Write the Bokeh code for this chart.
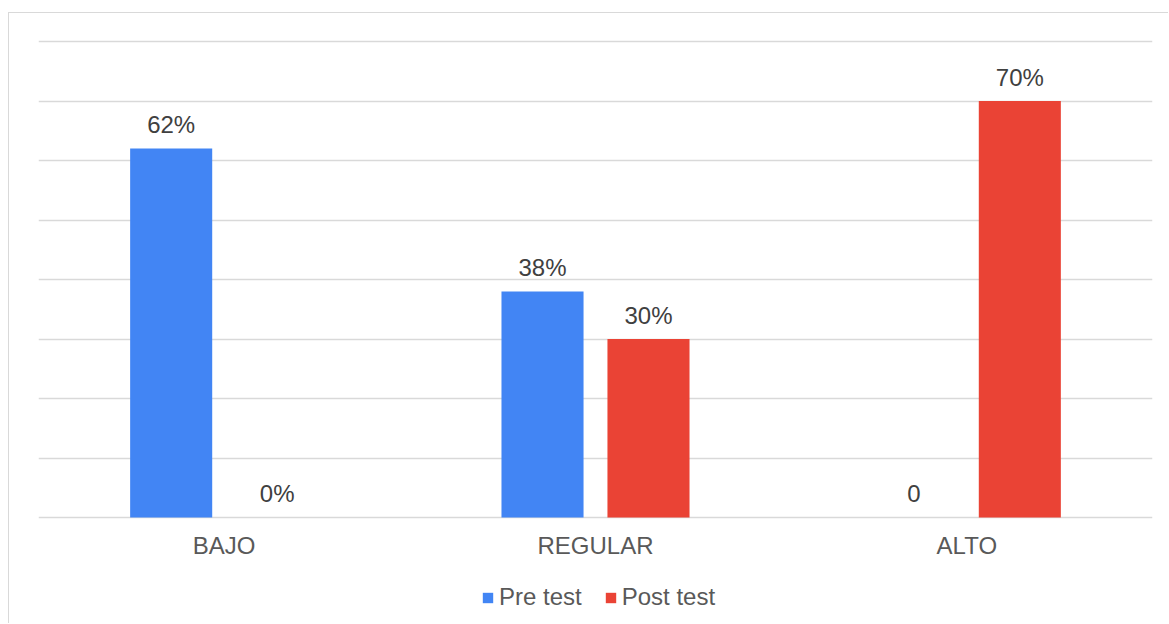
from bokeh.plotting import figure
from bokeh.models import ColumnDataSource, FactorRange, Legend, LegendItem, FixedTicker
from bokeh.transform import dodge
from bokeh.core.properties import value
from bokeh.embed import file_html
from bokeh.resources import INLINE

categories = ["BAJO", "REGULAR", "ALTO"]
pre_test = [0.62, 0.38, 0.0]
post_test = [0.0, 0.30, 0.70]
pre_labels = ["62%", "38%", "0"]
post_labels = ["0%", "30%", "70%"]
grid_ticks = [0.0, 0.1, 0.2, 0.3, 0.4, 0.5, 0.6, 0.7, 0.8]

BLUE = "#4285F4"
RED = "#EA4335"
FONT = "Liberation Sans"
FS = "24px"

src = ColumnDataSource(dict(cat=categories, pre=pre_test, post=post_test,
                            pre_lab=pre_labels, post_lab=post_labels,
                            base=[0.0] * len(categories)))

p = figure(x_range=FactorRange(*categories), y_range=(-0.17983, 0.84706),
           width=1160, height=611, output_backend="svg", toolbar_location=None,
           min_border_left=29, min_border_right=17, min_border_top=0, min_border_bottom=0,
           styles={"margin-left": "8px", "margin-top": "12px",
                   "border-top": "1px solid #d9d9d9",
                   "border-left": "1px solid #d9d9d9"})
p.outline_line_color = None
p.xaxis.visible = False
p.yaxis.visible = False

off = 0.1427
w = 0.221
r1 = p.vbar(x=dodge("cat", -off, range=p.x_range), top="pre", width=w, source=src,
            fill_color=BLUE, line_color=None)
r2 = p.vbar(x=dodge("cat", off, range=p.x_range), top="post", width=w, source=src,
            fill_color=RED, line_color=None)

p.text(x=dodge("cat", -off, range=p.x_range), y="pre", text="pre_lab", source=src,
       text_align="center", text_baseline="alphabetic", y_offset=-24,
       text_font=value(FONT), text_font_size=FS, text_color="#404040")
p.text(x=dodge("cat", off, range=p.x_range), y="post", text="post_lab", source=src,
       text_align="center", text_baseline="alphabetic", y_offset=-24,
       text_font=value(FONT), text_font_size=FS, text_color="#404040")

# category labels under the baseline
p.text(x="cat", y="base", text="cat", source=src,
       text_align="center", text_baseline="alphabetic", y_offset=28,
       text_font=value(FONT), text_font_size=FS, text_color="#595959")

p.ygrid.ticker = FixedTicker(ticks=grid_ticks)
p.ygrid.grid_line_color = "#d9d9d9"
p.ygrid.grid_line_width = 1.5
p.xgrid.grid_line_color = None

legend = Legend(items=[LegendItem(label="Pre test", renderers=[r1]),
                       LegendItem(label="Post test", renderers=[r2])],
                orientation="horizontal", location=(443, 13),
                glyph_width=13, glyph_height=13, label_standoff=5, spacing=22,
                label_text_font=FONT, label_text_font_size=FS,
                label_text_color="#595959", border_line_color=None,
                background_fill_alpha=0, padding=0, margin=0,
                label_height=20)
p.add_layout(legend, "center")

open("out.html", "w").write(file_html(p, INLINE))
